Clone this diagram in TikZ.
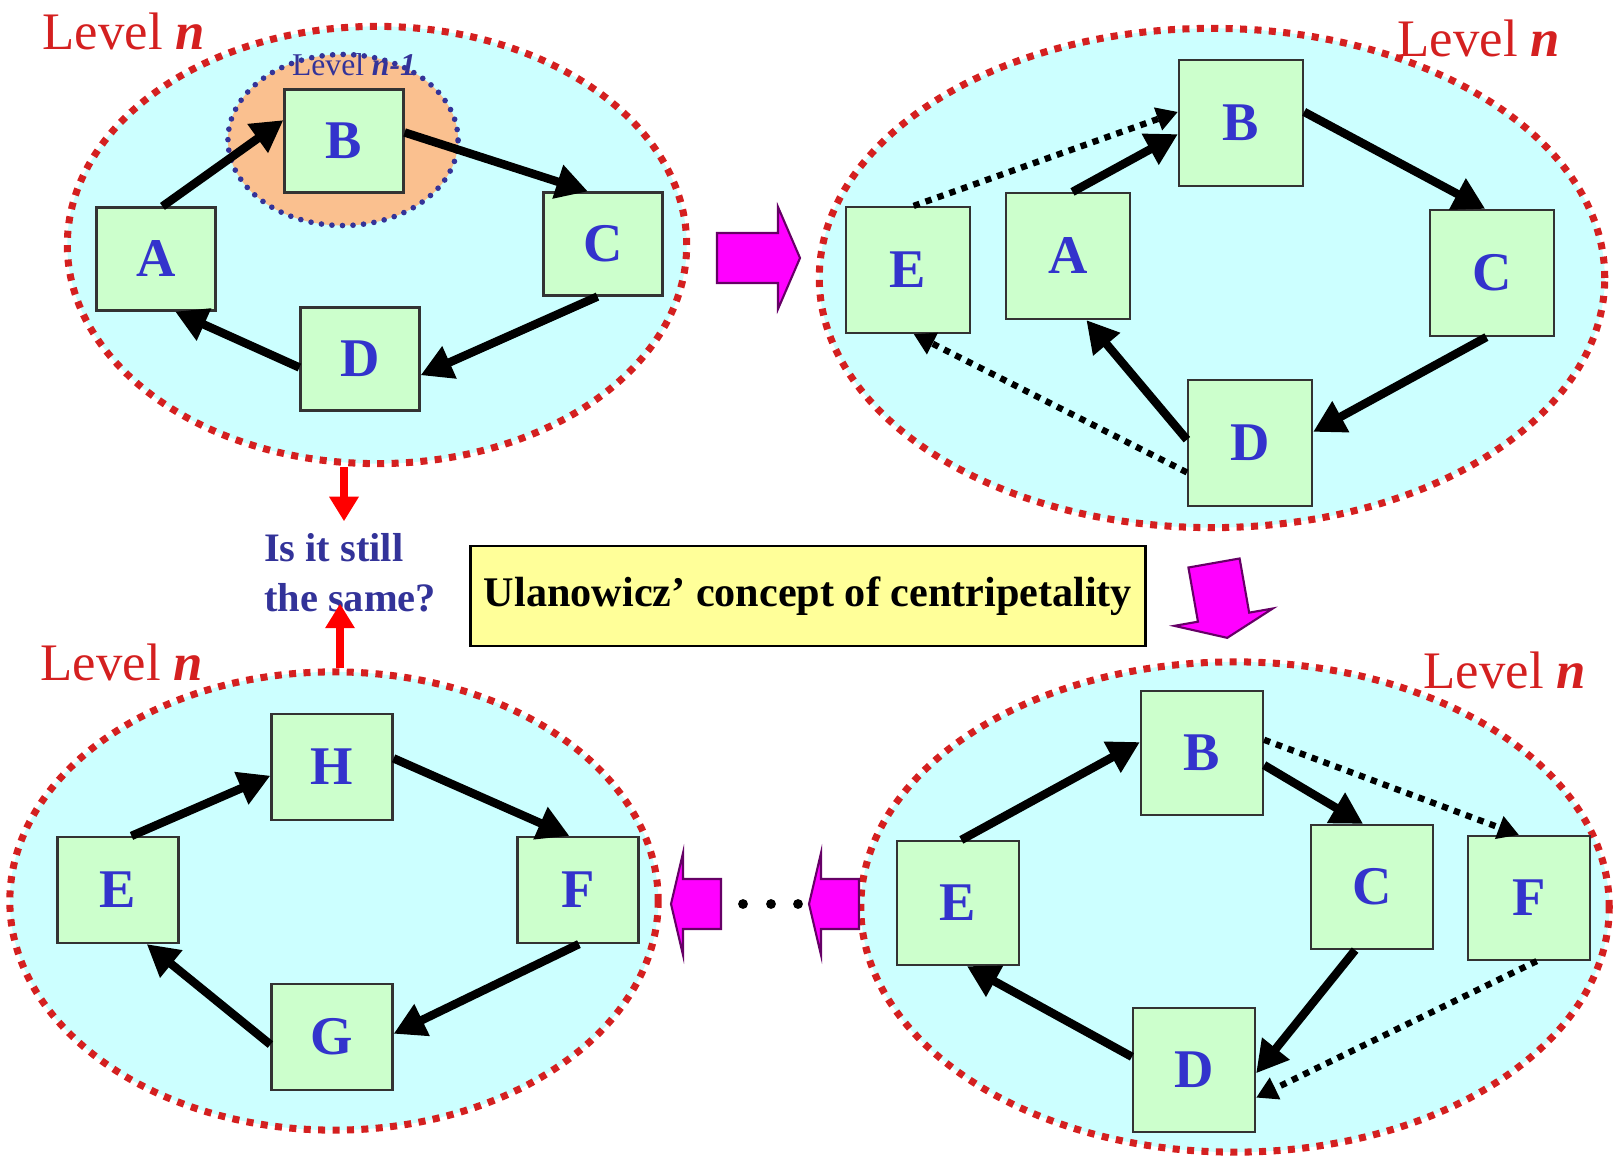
\documentclass[tikz,border=0pt]{standalone}
\usepackage{fontspec}
\setmainfont{Liberation Serif}
\usetikzlibrary{arrows.meta,positioning,shapes.geometric}
\definecolor{lvlred}{HTML}{D42020}
\definecolor{pool}{HTML}{CCFFFF}
\definecolor{boxgreen}{HTML}{CCFFCC}
\definecolor{letterblue}{HTML}{3333CC}
\definecolor{askblue}{HTML}{333399}
\definecolor{subpeach}{HTML}{FAC08F}
\definecolor{bannery}{HTML}{FFFF99}
\definecolor{fatmag}{HTML}{FF00FF}
\definecolor{fatedge}{HTML}{660066}

\begin{document}
\begin{tikzpicture}[x=0.01cm, y=-0.01cm,
  level/.style={ellipse,draw=lvlred,fill=pool,line width=2pt,dash pattern=on 2pt off 2.1pt,inner sep=0pt},
  lvltag/.style={text=lvlred,font=\fontsize{15}{18}\selectfont},
  comp/.style={draw=black!80,line width=0.6pt,fill=boxgreen,inner sep=0pt,text=letterblue,font=\fontsize{15.5}{18}\selectfont\bfseries},
  compa/.style={comp,minimum width=1.19cm,minimum height=1.03cm},
  compb/.style={comp,minimum width=1.24cm,minimum height=1.26cm},
  compc/.style={comp,minimum width=1.22cm,minimum height=1.24cm},
  compd/.style={comp,minimum width=1.21cm,minimum height=1.06cm},
  flow/.style={-{Triangle[length=9pt,width=9.5pt]},line width=2.4pt},
  newflow/.style={-{Triangle[length=6pt,width=6.5pt]},line width=1.8pt,dash pattern=on 1.8pt off 1.8pt},
  ask/.style={-{Triangle[length=7pt,width=8pt]},draw=red,line width=2pt},
  fat/.style={fill=fatmag,draw=fatedge,line width=0.6pt}]
  \useasboundingbox (0,0) rectangle (1622,1158);

  % level n, first state
  \node[level,minimum width=6.19cm,minimum height=4.37cm] (lvl1) at (377,245) {};
  \node[ellipse,fill=subpeach,draw=askblue,line width=1.6pt,line cap=round,dash pattern=on 0pt off 3pt,
    minimum width=2.3cm,minimum height=1.71cm] (sub) at (343,140) {};
  \node[text=askblue,font=\fontsize{9}{11}\selectfont] (subtag) at (354,65) {Level \textbf{\textit{n-1}}};
  \node[lvltag] (tag1) at (124,31) {Level \textbf{\textit{n}}};
  \node[compa] (A1) at (156,259) {A};
  \node[compa] (B1) at (344,141) {B};
  \node[compa] (C1) at (603,244) {C};
  \node[compa] (D1) at (360,359) {D};
  \draw[flow] (A1.83) -- (B1.161);
  \draw[flow] (B1.8) -- (C1.106);
  \draw[flow] (C1.264) -- (D1.-15);
  \draw[flow] (D1.188) -- (A1.-70);

  % level n, E joins
  \node[level,minimum width=7.85cm,minimum height=4.99cm] (lvl2) at (1212,278) {};
  \node[lvltag] (tag2) at (1479,38) {Level \textbf{\textit{n}}};
  \node[compb] (B2) at (1241,123) {B};
  \node[compb] (A2) at (1068,256) {A};
  \node[compb] (E2) at (908,270) {E};
  \node[compb] (C2) at (1492,273) {C};
  \node[compb] (D2) at (1250,443) {D};
  \draw[flow] (A2.86) -- (B2.190);
  \draw[newflow] (E2.85) -- (B2.170);
  \draw[flow] (B2.10) -- (C2.96);
  \draw[flow] (C2.265) -- (D2.10);
  \draw[flow] (D2.177) -- (A2.-74);
  \draw[newflow] (D2.205) -- (E2.-85);

  % level n, F joins
  \node[level,minimum width=7.48cm,minimum height=4.90cm] (lvl3) at (1235,907) {};
  \node[lvltag] (tag3) at (1505,670) {Level \textbf{\textit{n}}};
  \node[compc] (B3) at (1202,753) {B};
  \node[compc] (E3) at (958,903) {E};
  \node[compc] (C3) at (1372,887) {C};
  \node[compc] (F3) at (1529,898) {F};
  \node[compc] (D3) at (1194,1070) {D};
  \draw[flow] (E3.87) -- (B3.170);
  \draw[flow] (B3.-11) -- (C3.98);
  \draw[newflow] (B3.12) -- (F3.99);
  \draw[flow] (C3.-105) -- (D3.-3);
  \draw[newflow] (F3.-83) -- (D3.-24);
  \draw[flow] (D3.168) -- (E3.-82);

  % level n, all replaced
  \node[level,minimum width=6.48cm,minimum height=4.58cm] (lvl4) at (334,901) {};
  \node[lvltag] (tag4) at (122,662) {Level \textbf{\textit{n}}};
  \node[compd] (H4) at (332,767) {H};
  \node[compd] (E4) at (118,890) {E};
  \node[compd] (F4) at (578,890) {F};
  \node[compd] (G4) at (332,1037) {G};
  \draw[flow] (E4.76) -- (H4.188);
  \draw[flow] (H4.8) -- (F4.99);
  \draw[flow] (F4.-89) -- (G4.3);
  \draw[flow] (G4.187) -- (E4.-62);

  % middle
  \node[text=askblue,align=left,font=\fontsize{11.5}{14.2}\selectfont\bfseries] (q) at (350,573) {Is it still\\the same?};
  \node[draw=black,line width=0.8pt,fill=bannery,minimum width=6.75cm,minimum height=1.0cm,
    font=\fontsize{12}{14}\selectfont\bfseries] (ulan) at (808,596) {Ulanowicz’ concept of centripetality};
  \coordinate (qtop) at ([xshift=-0.06cm]q.north);
  \coordinate (qbot) at ([xshift=-0.1cm]q.south);
  \draw[ask] (lvl1.south -| qtop) -- (qtop);
  \draw[ask,shorten >=-6pt] (lvl4.north -| qbot) -- (qbot);

  \draw[fat,shift={(717,258)}] (0,-25) -- (61,-25) -- (61,-51) -- (83,0) -- (61,51) -- (61,25) -- (0,25) -- cycle;
  \draw[fat,shift={(1214,563)},rotate=-80] (0,-26) -- (55,-26) -- (55,-50) -- (76,0) -- (55,50) -- (55,26) -- (0,26) -- cycle;
  \draw[fat,shift={(721,904)},rotate=180] (0,-25) -- (38,-25) -- (38,-51) -- (50,0) -- (38,51) -- (38,25) -- (0,25) -- cycle;
  \draw[fat,shift={(859,904)},rotate=180] (0,-25) -- (38,-25) -- (38,-51) -- (50,0) -- (38,51) -- (38,25) -- (0,25) -- cycle;
  \foreach \dx in {743,771,798} \fill (\dx,904) circle (1.4pt);
\end{tikzpicture}
\end{document}
